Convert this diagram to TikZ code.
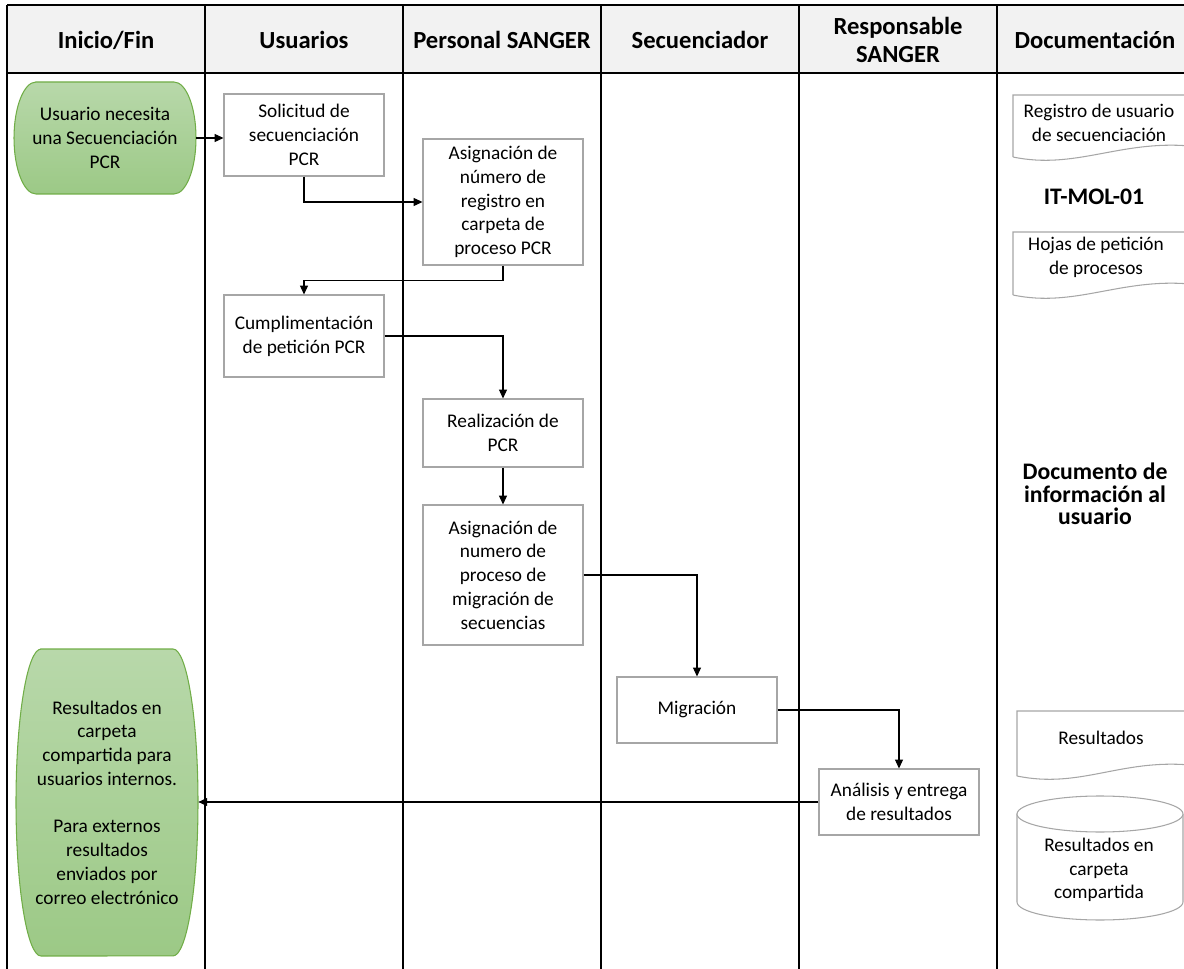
\documentclass[tikz,border=0pt]{standalone}
\usepackage{fontspec}
\setmainfont{Carlito}
\usepackage{xcolor}
\usepackage{tikz}
\usetikzlibrary{arrows.meta}

\definecolor{headgray}{HTML}{F2F2F2}
\definecolor{boxgray}{HTML}{A6A6A6}
\definecolor{termtop}{HTML}{B8D8AA}
\definecolor{termbot}{HTML}{9CC986}
\definecolor{termline}{HTML}{70AD47}

\begin{document}
\begin{tikzpicture}[x=0.02cm,y=-0.02cm,
  lane/.style={draw=black,line width=0.7pt},
  head/.style={align=center,font=\fontsize{14}{16}\selectfont\bfseries},
  proc/.style={draw=boxgray,fill=white,line width=0.6pt,align=center,
    font=\fontsize{11}{13.5}\selectfont,minimum width=3.2cm,inner sep=0pt},
  term/.style={top color=termtop,bottom color=termbot,draw=termline,line width=0.6pt},
  termtext/.style={align=center,font=\fontsize{11}{13.5}\selectfont,minimum width=3.64cm},
  doc/.style={draw=boxgray,fill=white,line width=0.6pt},
  doctext/.style={align=center,font=\fontsize{11}{13.5}\selectfont},
  bigtext/.style={align=center,font=\fontsize{13.5}{12.8}\selectfont\bfseries},
  flow/.style={->,>={Stealth[length=5pt,width=4.5pt,inset=0pt]},line width=0.6pt}]
\useasboundingbox (0,0) rectangle (1184,969);

% lanes
\fill[headgray] (7,5) rectangle (1190,73);
\draw[lane] (7,5) -- (1190,5);
\draw[lane] (7,73) -- (1190,73);
\foreach \x in {7,205,403,601,799,997}
  \draw[lane] (\x,5) -- (\x,975);

\node[head] (hini) at (106,40) {Inicio/Fin};
\node[head] (husu) at (304,40) {Usuarios};
\node[head] (hper) at (502,40) {Personal SANGER};
\node[head] (hsec) at (700,40) {Secuenciador};
\node[head] (hres) at (898,40) {Responsable\\SANGER};
\node[head] (hdoc) at (1095,40) {Documentación};

% start and end
\shade[term] (36,82) -- (174,82)
  arc[start angle=90,end angle=-90,x radius=0.44cm,y radius=1.12cm] -- (36,194)
  arc[start angle=270,end angle=90,x radius=0.44cm,y radius=1.12cm] -- cycle;
\node[termtext,minimum height=2.24cm] (ini) at (105,138)
  {Usuario necesita\\una Secuenciación\\PCR};

\shade[term] (41,649) -- (173,649)
  arc[start angle=90,end angle=-90,x radius=0.5cm,y radius=3.07cm] -- (41,956)
  arc[start angle=270,end angle=90,x radius=0.5cm,y radius=3.07cm] -- cycle;
\node[termtext,minimum height=6.14cm] (fin) at (107,802.5)
  {Resultados en\\carpeta\\compartida para\\usuarios internos.\\[13.5pt]
   Para externos\\resultados\\enviados por\\correo electrónico};

% process boxes
\node[proc,minimum height=1.64cm] (sol) at (304,135) {Solicitud de\\secuenciación\\PCR};
\node[proc,minimum height=2.52cm] (asig1) at (503,202)
  {Asignación de\\número de\\registro en\\carpeta de\\proceso PCR};
\node[proc,minimum height=1.64cm] (cump) at (304,336) {Cumplimentación\\de petición PCR};
\node[proc,minimum height=1.36cm] (real) at (503,433) {Realización de\\PCR};
\node[proc,minimum height=2.8cm] (asig2) at (503,575)
  {Asignación de\\numero de\\proceso de\\migración de\\secuencias};
\node[proc,minimum height=1.32cm] (migr) at (697,710) {Migración};
\node[proc,minimum height=1.32cm] (anal) at (899,802) {Análisis y entrega\\de resultados};

\draw[flow] (ini.east) -- (ini.east -| sol.west);
\draw[flow] (sol.south) |- (asig1.west);
\draw[flow] (asig1.south) -- ++(0,15) -| (cump.north);
\draw[flow] (cump.east) -| (real.north);
\draw[flow] (real) -- (asig2);
\draw[flow] (asig2.east) -| (migr.north);
\draw[flow] (migr.east) -| (anal.north);
\draw[flow] (anal.west) -- (anal.west -| fin.east);

% documentation
\draw[doc] (1013,157) -- (1013,95) -- (1190,95) -- (1190,146)
  .. controls (1120,140) and (1075,170) .. (1013,157);
\node[doctext] (reg) at (1099,123) {Registro de usuario\\de secuenciación};
\node[bigtext] (itmol) at (1094,197) {IT-MOL-01};
\draw[doc] (1013,295) -- (1013,232) -- (1190,232) -- (1190,284)
  .. controls (1120,278) and (1075,308) .. (1013,295);
\node[doctext] (hoj) at (1096,257) {Hojas de petición\\de procesos};
\node[bigtext] (dinf) at (1095,494) {Documento de\\información al\\usuario};
\draw[doc] (1017,776) -- (1017,711) -- (1190,711) -- (1190,765)
  .. controls (1120,759) and (1080,789) .. (1017,776);
\node[doctext] (res) at (1101,738) {Resultados};
\draw[doc] (1017,814) -- (1017,902)
  arc[start angle=180,end angle=360,x radius=1.66cm,y radius=0.36cm] -- (1183,814)
  arc[start angle=0,end angle=180,x radius=1.66cm,y radius=0.36cm] -- cycle;
\draw[doc] (1017,814) arc[start angle=180,end angle=360,x radius=1.66cm,y radius=0.36cm];
\node[doctext] (carp) at (1099,870) {Resultados en\\carpeta\\compartida};
\end{tikzpicture}
\end{document}
